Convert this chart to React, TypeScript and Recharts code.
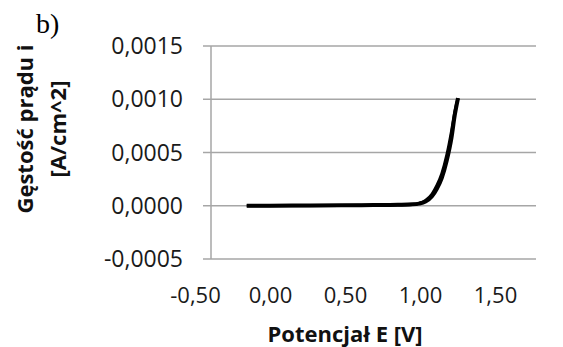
import { LineChart, Line, XAxis, YAxis, CartesianGrid } from "recharts";

// forward scan (lower branch)
const forwardE = [-0.28, 0.0, 0.3, 0.5, 0.65, 0.74, 0.78, 0.82, 0.86, 0.89, 0.92, 0.95, 0.98, 1.0, 1.02];
const forwardI = [0, 0.000002, 0.000004, 0.000006, 0.000009, 0.000013, 0.00002, 0.00004, 0.00009, 0.00016, 0.00026, 0.00042, 0.00064, 0.00085, 0.00101];

// return scan (upper branch)
const returnE = [-0.28, 0.0, 0.3, 0.5, 0.65, 0.74, 0.78, 0.82, 0.86, 0.89, 0.92, 0.95, 0.98, 1.0, 1.02];
const returnI = [0, 0.000001, 0.000003, 0.000005, 0.000007, 0.000012, 0.000022, 0.00005, 0.00011, 0.00019, 0.0003, 0.00047, 0.0007, 0.00088, 0.00101];

const yTicks = [-0.0005, 0, 0.0005, 0.001, 0.0015];
const xTicks = [-0.5, 0, 0.5, 1.0, 1.5];

const forwardData = forwardE.map((E, k) => ({ E, i: forwardI[k] }));
const returnData = returnE.map((E, k) => ({ E, i: returnI[k] }));
const tickData = xTicks.map((E) => ({ E, i: 0 }));

const FONT = "'Open Sans', sans-serif";
const GRID = "#a6a6a6";

const fmt = (digits: number) => (v: number) => v.toFixed(digits).replace(".", ",");

function YTitle() {
  return (
    <g fontFamily={FONT} fontWeight="bold" fontSize={22} fill="#111">
      <text x={24} y={129} transform="rotate(-90, 24, 129)" textAnchor="middle" dominantBaseline="central">
        Gęstość prądu i
      </text>
      <text x={57} y={129} transform="rotate(-90, 57, 129)" textAnchor="middle" dominantBaseline="central">
        [A/cm^2]
      </text>
    </g>
  );
}

function XTitle() {
  return (
    <text x={345} y={342} textAnchor="middle" fontFamily={FONT} fontWeight="bold" fontSize={22} fill="#111">
      Potencjał E [V]
    </text>
  );
}

export default function App() {
  return (
    <div style={{ position: "absolute", left: 0, top: 0, width: 563, height: 347, background: "#fff" }}>
      <LineChart
        width={563}
        height={347}
        margin={{ top: 46, right: 27, left: 0, bottom: 0 }}
      >
        <CartesianGrid xAxisId="data" horizontal vertical={false} stroke={GRID} strokeWidth={1.5} />
        <XAxis
          xAxisId="data"
          type="number"
          dataKey="E"
          domain={[-0.5, 1.5]}
          height={0}
          hide
        />
        {/* label axis: tick labels sit slightly left of the plot scale in the reference */}
        <XAxis
          xAxisId="labels"
          type="number"
          dataKey="E"
          domain={[-0.3967, 1.77]}
          ticks={xTicks}
          interval={0}
          allowDataOverflow
          height={88}
          axisLine={false}
          tickLine={false}
          tickSize={0}
          tickMargin={28}
          tickFormatter={fmt(2)}
          tick={{ fontFamily: FONT, fontSize: 22, fill: "#1a1a1a" }}
          label={{ content: () => <XTitle /> }}
        />
        <YAxis
          type="number"
          domain={[-0.0005, 0.0015]}
          ticks={yTicks}
          interval={0}
          width={211}
          axisLine={{ stroke: GRID, strokeWidth: 1.5 }}
          tickLine={{ stroke: GRID, strokeWidth: 1.5 }}
          tickSize={8}
          tickMargin={20}
          tickFormatter={fmt(4)}
          tick={{ fontFamily: FONT, fontSize: 23, fill: "#1a1a1a" }}
          label={{ content: () => <YTitle /> }}
        />
        <Line
          xAxisId="labels"
          data={tickData}
          dataKey="i"
          stroke="none"
          dot={false}
          activeDot={false}
          isAnimationActive={false}
        />
        <Line
          xAxisId="data"
          data={forwardData}
          dataKey="i"
          type="monotone"
          stroke="#000"
          strokeWidth={4}
          dot={false}
          isAnimationActive={false}
        />
        <Line
          xAxisId="data"
          data={returnData}
          dataKey="i"
          type="monotone"
          stroke="#000"
          strokeWidth={3}
          dot={false}
          isAnimationActive={false}
        />
        <text x={36} y={33} fontFamily="'Liberation Serif', serif" fontSize={28} fill="#000">
          b)
        </text>
      </LineChart>
    </div>
  );
}
